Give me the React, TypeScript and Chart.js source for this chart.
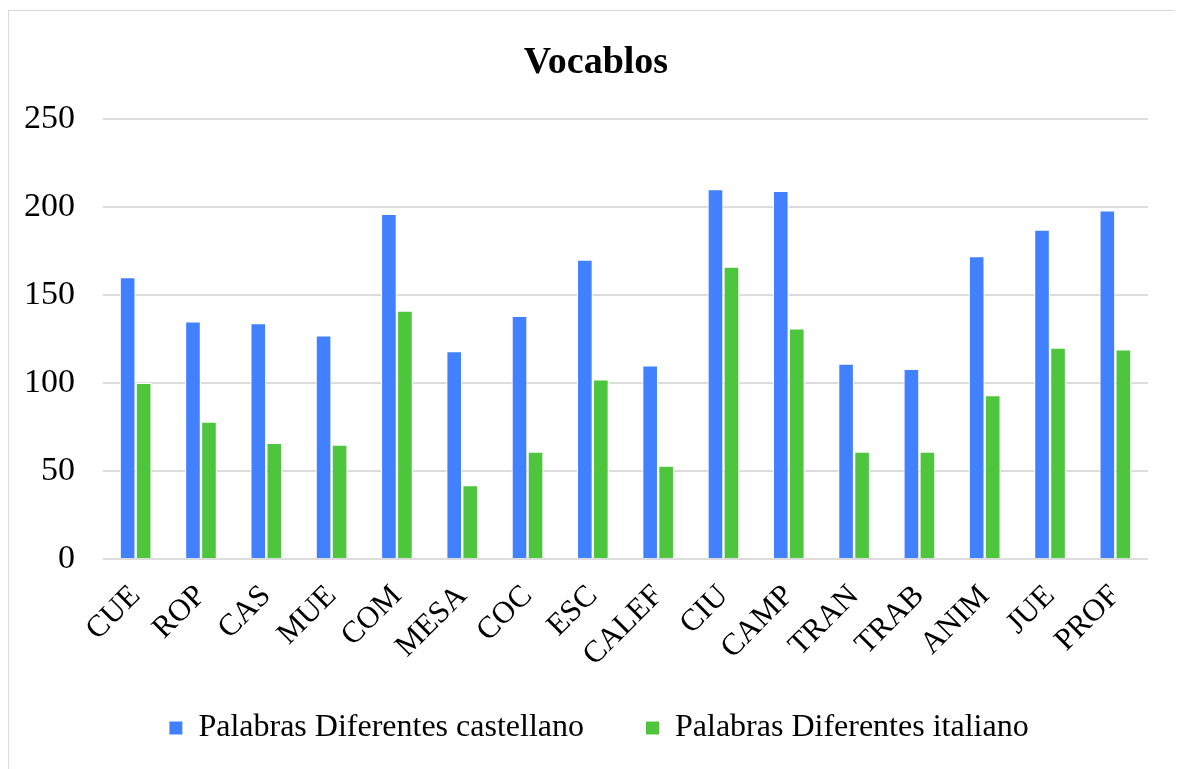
import React, { useEffect, useRef } from "react";
import { Chart, registerables } from "chart.js";

Chart.register(...registerables);

const categories = ["CUE", "ROP", "CAS", "MUE", "COM", "MESA", "COC", "ESC", "CALEF", "CIU", "CAMP", "TRAN", "TRAB", "ANIM", "JUE", "PROF"];
const castellano = [160, 135, 134, 127, 196, 118, 138, 170, 110, 210, 209, 111, 108, 172, 187, 198];
const italiano = [100, 78, 66, 65, 141, 42, 61, 102, 53, 166, 131, 61, 61, 93, 120, 119];
const seriesNames = ["Palabras Diferentes castellano", "Palabras Diferentes italiano"];
const chartTitle = "Vocablos";
const yMin = 0;
const yMax = 250;
const yStep = 50;

const FONT = "'Liberation Serif', 'Times New Roman', serif";
const LEGEND_GAP = 62;

// Move the title and legend blocks after layout (legend gap only between items, not above them)
const blockShift = {
  id: "blockShift",
  afterLayout(chart: any) {
    const lg = chart.legend;
    if (lg) {
      lg.top -= LEGEND_GAP - 3;
      lg.left += 13;
      lg.right += 13;
    }
    const tb = chart.titleBlock;
    if (tb) {
      tb.left += 10;
      tb.right += 10;
    }
  },
};

export default function App() {
  const ref = useRef<HTMLCanvasElement | null>(null);
  useEffect(() => {
    if (!ref.current) return;
    const chart = new Chart(ref.current, {
      type: "bar",
      data: {
        labels: categories,
        datasets: [
          {
            label: seriesNames[0],
            data: castellano,
            backgroundColor: "#4181FF",
            borderColor: "#ffffff",
            borderWidth: 1.2,
            categoryPercentage: 0.49,
            barPercentage: 1,
          },
          {
            label: seriesNames[1],
            data: italiano,
            backgroundColor: "#4DC63E",
            borderColor: "#ffffff",
            borderWidth: 1.2,
            categoryPercentage: 0.49,
            barPercentage: 1,
          },
        ],
      },
      plugins: [blockShift],
      options: {
        animation: false,
        responsive: false,
        maintainAspectRatio: false,
        layout: { autoPadding: false, padding: { left: 15, right: 31, top: 0, bottom: 0 } },
        plugins: {
          title: {
            display: true,
            text: chartTitle,
            color: "#000",
            font: { family: FONT, size: 38, weight: "bold" },
            padding: { top: 29, bottom: 33 },
          },
          legend: {
            position: "bottom",
            maxHeight: 70,
            labels: {
              color: "#000",
              font: { family: FONT, size: 32 },
              boxWidth: 13,
              boxHeight: 13,
              padding: LEGEND_GAP,
              generateLabels: (c: any) =>
                Chart.defaults.plugins.legend.labels
                  .generateLabels(c)
                  .map((item: any) => ({ ...item, lineWidth: 0, strokeStyle: "rgba(0,0,0,0)" })),
            },
          },
          tooltip: { enabled: false },
        },
        scales: {
          x: {
            grid: { display: false, drawTicks: false },
            border: { display: false },
            ticks: {
              color: "#000",
              font: { family: FONT, size: 31 },
              maxRotation: 45,
              minRotation: 45,
              autoSkip: false,
              padding: 19,
            },
            afterFit: (scale: any) => {
              scale.height = 150;
            },
          },
          y: {
            min: yMin,
            max: yMax,
            grid: { color: "#dcdcdc", lineWidth: 2, drawTicks: false },
            border: { display: false },
            ticks: {
              stepSize: yStep,
              color: "#000",
              font: { family: FONT, size: 34 },
              padding: 28,
            },
            afterFit: (scale: any) => {
              scale.width = 79;
            },
          },
        },
      },
    });
    return () => chart.destroy();
  }, []);

  return (
    <div
      style={{
        marginTop: 2,
        width: 1172,
        height: 770,
        border: "1px solid #d9d9d9",
        boxSizing: "border-box",
        background: "#fff",
        overflow: "hidden",
      }}
    >
      <canvas ref={ref} width={1170} height={768} style={{ display: "block" }} />
    </div>
  );
}
